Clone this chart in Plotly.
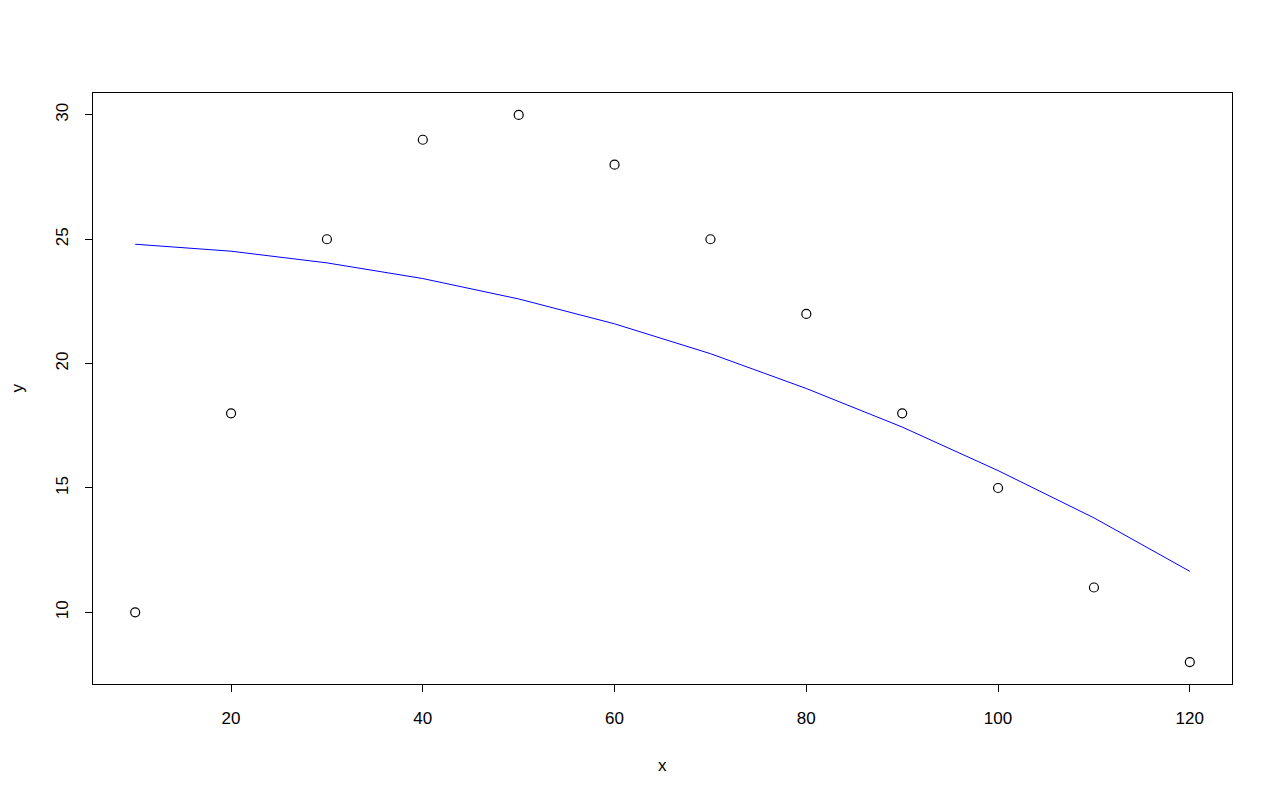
import plotly.graph_objects as go

# observed data
x_obs = [10, 20, 30, 40, 50, 60, 70, 80, 90, 100, 110, 120]
y_obs = [10, 18, 25, 29, 30, 28, 25, 22, 18, 15, 11, 8]

# fitted curve values
y_fit = [24.8, 24.52, 24.05, 23.42, 22.6, 21.6, 20.4, 19.0, 17.45, 15.7, 13.8, 11.65]

x_ticks = [20, 40, 60, 80, 100, 120]
y_ticks = [10, 15, 20, 25, 30]

FONT = 'Liberation Sans, Arial, sans-serif'

fig = go.Figure()

fig.add_trace(go.Scatter(
    x=x_obs,
    y=y_obs,
    mode='markers',
    marker=dict(symbol='circle-open', size=9, color='black', line=dict(width=1.2)),
    showlegend=False,
))

fig.add_trace(go.Scatter(
    x=x_obs,
    y=y_fit,
    mode='lines',
    line=dict(color='rgb(0, 0, 255)', width=1),
    showlegend=False,
))

axis_style = dict(
    showgrid=False,
    zeroline=False,
    showline=True,
    mirror=True,
    linecolor='black',
    linewidth=1,
    ticks='outside',
    ticklen=7,
    tickwidth=1,
    tickcolor='black',
    tickfont=dict(family=FONT, size=17, color='black'),
)

fig.update_xaxes(range=[5.6, 124.4], tickvals=x_ticks, ticklabelstandoff=12, **axis_style)
fig.update_yaxes(range=[7.12, 30.88], tickvals=y_ticks, tickangle=-90,
                 ticklabelstandoff=10, **axis_style)

fig.update_layout(
    width=1280,
    height=800,
    margin=dict(l=85, r=56, t=85, b=124),
    plot_bgcolor='white',
    paper_bgcolor='white',
    font=dict(family=FONT, size=17, color='black'),
    annotations=[
        dict(text='x', xref='paper', yref='paper', x=0.5, y=-81 / 591,
             showarrow=False, xanchor='center', yanchor='middle'),
        dict(text='y', xref='paper', yref='paper', x=-76 / 1139, y=0.5,
             showarrow=False, xanchor='center', yanchor='middle', textangle=-90),
    ],
)

fig.write_html("out.html")
